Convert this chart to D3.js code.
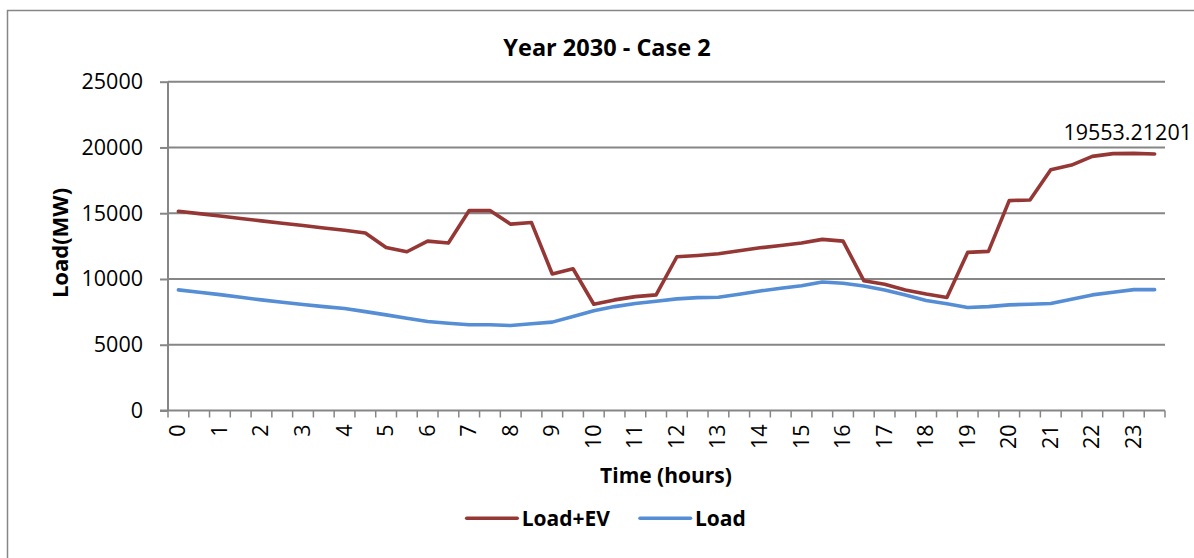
<!doctype html>
<html>
<head>
<meta charset="utf-8">
<script src="https://cdn.jsdelivr.net/npm/d3@7"></script>
<style>
  html, body { margin: 0; padding: 0; background: #fff; }
  svg { display: block; font-family: "Open Sans", "Noto Sans", sans-serif; }
</style>
</head>
<body>
<script>
// half-hour time slots
const hours = [0, 0.5, 1, 1.5, 2, 2.5, 3, 3.5, 4, 4.5, 5, 5.5, 6, 6.5, 7, 7.5,
  8, 8.5, 9, 9.5, 10, 10.5, 11, 11.5, 12, 12.5, 13, 13.5, 14, 14.5, 15, 15.5,
  16, 16.5, 17, 17.5, 18, 18.5, 19, 19.5, 20, 20.5, 21, 21.5, 22, 22.5, 23, 23.5];

const loadEV = [15150, 14970, 14790, 14600, 14420, 14240, 14060, 13880, 13700, 13500,
  12400, 12070, 12880, 12730, 15200, 15200, 14170, 14290, 10380, 10780,
  8080, 8410, 8660, 8790, 11690, 11790, 11920, 12150, 12370, 12550,
  12730, 13010, 12880, 9870, 9600, 9170, 8860, 8590, 12020, 12100,
  15960, 16010, 18310, 18660, 19320, 19530, 19553.21201, 19500];

const load = [9170, 8990, 8810, 8610, 8410, 8230, 8060, 7900, 7750, 7520,
  7270, 7020, 6770, 6640, 6520, 6520, 6460, 6590, 6720, 7140,
  7580, 7900, 8130, 8310, 8490, 8580, 8610, 8840, 9090, 9290,
  9490, 9770, 9670, 9470, 9170, 8790, 8360, 8110, 7830, 7900,
  8030, 8080, 8130, 8460, 8790, 8990, 9190, 9190];

const yTicks = [0, 5000, 10000, 15000, 20000, 25000];

const series = [
  {name: "Load+EV", values: loadEV, color: "#953735"},
  {name: "Load", values: load, color: "#558ed5"}
];

const width = 1194, height = 558;
const margin = {left: 168, right: 29, top: 81.7, bottom: 147.5};
const gray = "#868686";

const svg = d3.select("body").append("svg")
    .attr("width", width)
    .attr("height", height);

// chart area border (runs off the right and bottom edges)
svg.append("rect")
    .attr("x", 7.5).attr("y", 10.5)
    .attr("width", 1300).attr("height", 700)
    .attr("fill", "none").attr("stroke", gray).attr("stroke-width", 1.5);

const x = d3.scaleBand()
    .domain(hours)
    .range([margin.left, width - margin.right]);

const y = d3.scaleLinear()
    .domain([0, 25000])
    .range([height - margin.bottom, margin.top]);

// gridlines
svg.append("g")
  .selectAll("line")
  .data(yTicks.slice(1))
  .join("line")
    .attr("x1", margin.left).attr("x2", width - margin.right)
    .attr("y1", d => y(d)).attr("y2", d => y(d))
    .attr("stroke", gray).attr("stroke-width", 2);

// y axis
const yAxis = svg.append("g")
    .attr("transform", `translate(${margin.left},0)`)
    .call(d3.axisLeft(y).tickValues(yTicks).tickSize(8).tickPadding(17).tickFormat(d3.format("d")));
yAxis.select(".domain").attr("stroke", gray).attr("stroke-width", 2).attr("d", `M0,${y(0)}V${y(25000)}`);
yAxis.selectAll(".tick line").attr("stroke", gray).attr("stroke-width", 2);
yAxis.selectAll(".tick text").attr("font-size", 21.5).attr("fill", "#000")
    .attr("font-family", "Open Sans");

// x axis: ticks on category boundaries, labels on whole hours
const xg = svg.append("g");
const x0 = y(0);
xg.append("line")
    .attr("x1", margin.left - 8).attr("x2", width - margin.right)
    .attr("y1", x0).attr("y2", x0)
    .attr("stroke", gray).attr("stroke-width", 2);
xg.selectAll("line.tk")
  .data(hours.concat([null]))
  .join("line")
    .attr("class", "tk")
    .attr("x1", (d, i) => margin.left + i * x.step())
    .attr("x2", (d, i) => margin.left + i * x.step())
    .attr("y1", x0).attr("y2", x0 + 7)
    .attr("stroke", gray).attr("stroke-width", 1.5);
xg.selectAll("text")
  .data(hours.filter(h => Number.isInteger(h)))
  .join("text")
    .attr("transform", d => `translate(${x(d) + x.bandwidth() / 2 + 7},${x0 + 14}) rotate(-90)`)
    .attr("text-anchor", "end")
    .attr("font-size", 21.5)
    .text(d => d);

// axis titles
svg.append("text")
    .attr("x", 666).attr("y", 483)
    .attr("text-anchor", "middle")
    .attr("font-size", 21).attr("font-weight", "bold")
    .text("Time (hours)");

svg.append("text")
    .attr("transform", `translate(68,243) rotate(-90)`)
    .attr("text-anchor", "middle")
    .attr("font-size", 22).attr("font-weight", "bold")
    .text("Load(MW)");

// title
svg.append("text")
    .attr("x", 607).attr("y", 55.5)
    .attr("text-anchor", "middle")
    .attr("font-size", 23.5).attr("font-weight", "bold")
    .text("Year 2030 - Case 2");

// lines
const line = d3.line()
    .x((d, i) => x(hours[i]) + x.bandwidth() / 2)
    .y(d => y(d));

svg.append("g")
  .selectAll("path")
  .data(series)
  .join("path")
    .attr("d", d => line(d.values))
    .attr("fill", "none")
    .attr("stroke", d => d.color)
    .attr("stroke-width", 3.6)
    .attr("stroke-linejoin", "round")
    .attr("stroke-linecap", "round");

// data label on the peak
const peakIdx = d3.maxIndex(loadEV);
const peakLabel = svg.append("text")
    .attr("y", 140)
    .attr("font-size", 21.5)
    .text(String(loadEV[peakIdx]));
const lw = peakLabel.node().getComputedTextLength();
peakLabel.attr("x", Math.min(x(hours[peakIdx]) + x.bandwidth() / 2 - lw / 2, 1192 - lw));

// legend
const legend = svg.append("g");
const legendX = [466.7, 640];
series.forEach((s, i) => {
  legend.append("line")
      .attr("x1", legendX[i]).attr("x2", legendX[i] + 50.5)
      .attr("y1", 518.3).attr("y2", 518.3)
      .attr("stroke", s.color).attr("stroke-width", 3.6)
      .attr("stroke-linecap", "round");
  legend.append("text")
      .attr("x", legendX[i] + 55).attr("y", 525.5)
      .attr("font-size", 21).attr("font-weight", "bold")
      .text(s.name);
});
</script>
</body>
</html>
